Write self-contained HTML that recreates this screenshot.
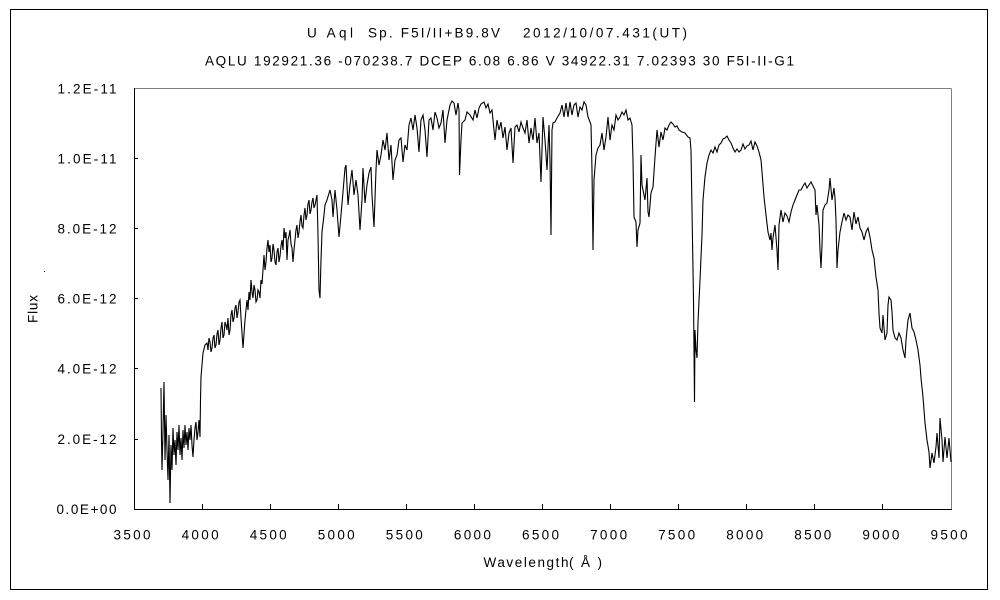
<!DOCTYPE html>
<html><head><meta charset="utf-8"><style>
html,body{margin:0;padding:0;background:#fff;}
svg{display:block;}
text{font-family:"Liberation Sans","IPAGothic",sans-serif;font-size:13.5px;fill:#000;}
</style></head><body>
<svg width="1000" height="600" viewBox="0 0 1000 600" xmlns="http://www.w3.org/2000/svg">
<rect x="0" y="0" width="1000" height="600" fill="#fff"/>
<rect x="10.5" y="9.5" width="977" height="580" fill="none" stroke="#000" stroke-width="1"/>
<!-- titles -->
<text x="307" y="37.5" textLength="46" lengthAdjust="spacing">U Aql</text>
<text x="368" y="37.5" textLength="132" lengthAdjust="spacing">Sp. F5I/II+B9.8V</text>
<text x="523" y="37.5" textLength="164" lengthAdjust="spacing">2012/10/07.431(UT)</text>
<text x="205" y="65.5" textLength="589" lengthAdjust="spacing">AQLU 192921.36 -070238.7 DCEP 6.08 6.86 V 34922.31 7.02393 30 F5I-II-G1</text>
<!-- plot frame -->
<line x1="134.5" y1="88.5" x2="951.5" y2="88.5" stroke="#808080" stroke-width="1"/>
<line x1="951.5" y1="88.5" x2="951.5" y2="509.5" stroke="#808080" stroke-width="1"/>
<line x1="134.5" y1="88" x2="134.5" y2="510" stroke="#000" stroke-width="1"/>
<line x1="134" y1="509.5" x2="952" y2="509.5" stroke="#000" stroke-width="1"/>
<!-- y ticks -->
<g stroke="#000" stroke-width="1">
<line x1="134.5" y1="158.5" x2="138" y2="158.5"/>
<line x1="134.5" y1="228.5" x2="138" y2="228.5"/>
<line x1="134.5" y1="298.5" x2="138" y2="298.5"/>
<line x1="134.5" y1="368.5" x2="138" y2="368.5"/>
<line x1="134.5" y1="439.5" x2="138" y2="439.5"/>
<!-- x ticks -->
<line x1="202.5" y1="509" x2="202.5" y2="504"/>
<line x1="270.5" y1="509" x2="270.5" y2="504"/>
<line x1="338.5" y1="509" x2="338.5" y2="504"/>
<line x1="406.5" y1="509" x2="406.5" y2="504"/>
<line x1="474.5" y1="509" x2="474.5" y2="504"/>
<line x1="542.5" y1="509" x2="542.5" y2="504"/>
<line x1="610.5" y1="509" x2="610.5" y2="504"/>
<line x1="678.5" y1="509" x2="678.5" y2="504"/>
<line x1="746.5" y1="509" x2="746.5" y2="504"/>
<line x1="814.5" y1="509" x2="814.5" y2="504"/>
<line x1="882.5" y1="509" x2="882.5" y2="504"/>
</g>
<!-- y labels -->
<g text-anchor="end">
<text x="116.5" y="93.5" textLength="59" lengthAdjust="spacing">1.2E-11</text>
<text x="116.5" y="163.5" textLength="59" lengthAdjust="spacing">1.0E-11</text>
<text x="116.5" y="233.5" textLength="59" lengthAdjust="spacing">8.0E-12</text>
<text x="116.5" y="303.5" textLength="59" lengthAdjust="spacing">6.0E-12</text>
<text x="116.5" y="373.5" textLength="59" lengthAdjust="spacing">4.0E-12</text>
<text x="116.5" y="444" textLength="59" lengthAdjust="spacing">2.0E-12</text>
<text x="116.5" y="514" textLength="60" lengthAdjust="spacing">0.0E+00</text>
</g>
<!-- x labels -->
<g>
<text x="113.5" y="539.5" textLength="37" lengthAdjust="spacing">3500</text>
<text x="181.6" y="539.5" textLength="37" lengthAdjust="spacing">4000</text>
<text x="249.7" y="539.5" textLength="37" lengthAdjust="spacing">4500</text>
<text x="317.7" y="539.5" textLength="37" lengthAdjust="spacing">5000</text>
<text x="385.8" y="539.5" textLength="37" lengthAdjust="spacing">5500</text>
<text x="453.9" y="539.5" textLength="37" lengthAdjust="spacing">6000</text>
<text x="522" y="539.5" textLength="37" lengthAdjust="spacing">6500</text>
<text x="590.1" y="539.5" textLength="37" lengthAdjust="spacing">7000</text>
<text x="658.1" y="539.5" textLength="37" lengthAdjust="spacing">7500</text>
<text x="726.2" y="539.5" textLength="37" lengthAdjust="spacing">8000</text>
<text x="794.3" y="539.5" textLength="37" lengthAdjust="spacing">8500</text>
<text x="862.4" y="539.5" textLength="37" lengthAdjust="spacing">9000</text>
<text x="930.5" y="539.5" textLength="37" lengthAdjust="spacing">9500</text>
</g>
<text x="483.5" y="567" textLength="85" lengthAdjust="spacing">Wavelength</text>
<text x="569" y="567" textLength="33" lengthAdjust="spacing">(Å)</text>
<text transform="translate(37.5,323) rotate(-90)" textLength="28" lengthAdjust="spacing">Flux</text>
<rect x="44" y="271" width="1" height="1" fill="#000"/>
<!-- spectrum -->
<polyline fill="none" stroke="#000" stroke-width="1.1" stroke-linejoin="miter" points="
161,388 161.5,440 162,470 163,430 164,382 165,460 166,415 167,450 168,480 169,435 170,503 171,445 172,470 173,428 174,455 175,440 176,465 177,432 178,450 179,425 180,455 181,438 182,460 183,430 184,448 185,425 186,445 187,432 188,450 189,428 190,440 191,425 192,445 193,457 194,440 195,428 196,422 197,440 198,432 199,420 200,437 200.5,400 201,377 203,353 205,345 207,343
208,350 209,338 210,342 211,352 212,348 213,338 214,335 215,348 216,345 217,334 218,330 219,345 220,340 221,328 222,322 223,338 224,335 225,322 226,325 227,330 228,318 229,335 230,330 231,315 232,310 233,322 234,318 235,308 236,305 237,318 238,312 239,302 240,300 241,318 243,348 245,320 247,300 248,310 249,292 250,300 251,280 252,292 253,298 254,285 255,290 256,302 257,300 258,290 259,292 260,298 261,280 262,284 263,270 264,255 265,270 266,262 267,248 268,240 269,252 270,245 271,262 272,258 273,244 274,250 275,262 276,265 277,252 278,248 279,262 280,256 281,246 282,240 283,250 284,228 285,238 286,232 287,260 288,240 289,236 290,230 291,244 292,248 293,262 294,250 295,240 296,230 297,225 298,238 299,232 300,222 301,215 302,226 303,228 304,215 305,208 306,220 307,215 308,204 309,200 310,214 311,210 312,202 313,198 314,208 315,205 316,200 317,195 318,235 319,290 320,298 321,260 322,232 324,215 325,205 327,200 330,190
332,200 333,217 335,190 337,210 339,237 341,215 343,192 345,168 346,165 348,205 350,185 352,170 354,195 356,180 358,195 360,230 362,200 363,168 365,203 367,185 369,173 371,167 372,195 374,227 376,170 377,150 379,165 381,155 383,140 385,150 387,133 389,160 391,145 393,180 395,160 397,155 399,140 401,138 403,162 405,145 407,150 409,125 411,118 413,130 415,115 417,128 419,152 421,120 423,115 425,130 427,157 429,120 431,118 433,130 435,112 437,118 439,128 441,123 443,110 445,143 447,120 449,110 450,105 452,101 454,103 456,115 458,103 459,110 459.5,175 461,140 462,123 465,120 467,112 470,115 473,120 475,110 477,118 479,108 481,104 484,102 486,108 488,104 490,113 492,110 494,130 495,140 497,120 499,130 501,122 503,138 505,127 507,150 509,133 511,128 513,163 515,127 517,125 519,132 521,122 523,128 525,133 527,120 529,143 531,128 533,140 535,118 537,143 539,133 541,182 543,117 545,140 547,170 549,125 550,160 551,235 552,130 553,123 555,122 557,118 560,113 562,105 564,117 566,103 568,117 570,102 572,115 574,105 576,103 578,117 580,107 582,110 584,102 586,105 588,117 590,122 591,125 592,170 593,250 594,180 596,155 598,148 600,145 602,133 604,150 606,137 608,117 610,140 612,125 614,130 616,115 618,120 620,117 622,112 624,115 626,110 628,120 630,118 632,125 633,160 634,217 636,222 637,247 638,230 640,223 641,155 642,185 643,190 645,200 647,178 648,212 649,217 651,193 653,187 655,157 657,130 659,147 661,132 663,140 665,128 667,130 669,125 671,122 673,124 675,127 677,126 679,130 682,132 685,133 688,137 690,138 691,150 692,210 693,270 693.5,300 694,350 694.5,402 695,330 696,350 697,358 698,322 700,280 702,235 703,200 705,177 707,163 709,155 711,150 713,153 715,147 717,152 719,145 721,143 723,139 725,138 727,136 729,140 731,143 733,148 735,152 737,149 739,152 741,150 743,144 745,149 747,146 749,145 751,141 753,150 755,142 757,146 759,152 761,160 762,172 764,197 766,215 768,232 770,240 771,233 772,250 773,238 775,225 777,250 778,270 779,225 781,210 783,222 785,213 787,216 789,222 791,212 793,205 795,200 797,195 799,190 801,190 803,186 805,183 807,188 809,185 811,182 813,186 815,190 816,215 817,205 819,225 820,250 821,268 822,245 823,210 825,205 827,203 829,190 830,178 832,200 834,188 835,198 836,220 837,268 838,250 840,232 842,222 844,213 846,220 848,215 850,217 852,230 854,212 856,224 858,217 860,228 862,232 864,240 866,232 868,228 870,237 872,250 874,258 876,277 878,290 879,313 880,328 882,333 883,315 885,340 887,333 888,305 889,297 891,300 892,312 893,330 895,338 897,340 899,333 901,338 903,350 905,358 906,340 908,320 910,313 912,328 914,332 916,340 918,350 920,365 921,378 923,397 925,423 927,440 929,452 930,468 932,453 934,463 936,447 937,433 939,458 940,418 942,440 943,462 945,437 947,458 949,438 951,462"/>
</svg>
</body></html>
